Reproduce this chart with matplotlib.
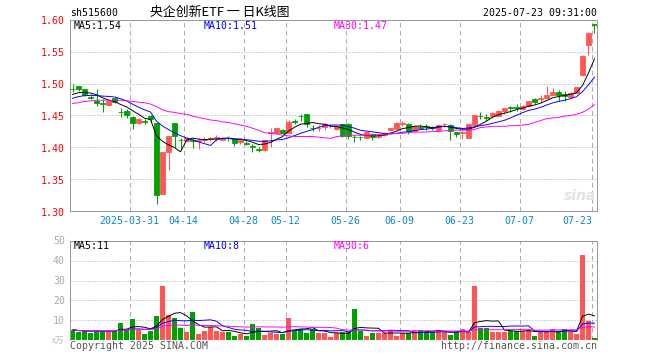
import matplotlib
matplotlib.use('Agg')
import matplotlib.pyplot as plt
import numpy as np
import pandas as pd

# ---------------- data ----------------
holidays = ['2025-04-04', '2025-05-01', '2025-05-02', '2025-05-05', '2025-06-02']
dates = [d for d in pd.bdate_range('2025-03-17', '2025-07-23') if d.strftime('%Y-%m-%d') not in holidays]

opens = [1.492, 1.496, 1.492, 1.479, 1.473, 1.469, 1.467, 1.477, 1.456, 1.457,
         1.447, 1.438, 1.441, 1.449, 1.438, 1.327, 1.392, 1.439, 1.412, 1.410,
         1.411, 1.410, 1.412, 1.413, 1.414, 1.412, 1.415, 1.413, 1.408, 1.407,
         1.402, 1.397, 1.396, 1.423, 1.423, 1.427, 1.423, 1.441, 1.450, 1.453,
         1.431, 1.430, 1.432, 1.433, 1.429, 1.436, 1.437, 1.417, 1.417, 1.415,
         1.421, 1.417, 1.420, 1.428, 1.429, 1.437, 1.437, 1.426, 1.432, 1.433,
         1.432, 1.428, 1.436, 1.435, 1.424, 1.423, 1.415, 1.435, 1.450, 1.447,
         1.450, 1.450, 1.457, 1.463, 1.463, 1.460, 1.465, 1.476, 1.476, 1.477,
         1.482, 1.487, 1.484, 1.479, 1.486, 1.513, 1.560, 1.593]
highs = [1.499, 1.497, 1.492, 1.484, 1.492, 1.476, 1.474, 1.478, 1.462, 1.460,
         1.449, 1.446, 1.445, 1.451, 1.439, 1.393, 1.418, 1.439, 1.415, 1.416,
         1.413, 1.414, 1.416, 1.416, 1.419, 1.416, 1.418, 1.413, 1.414, 1.410,
         1.406, 1.400, 1.413, 1.431, 1.431, 1.429, 1.443, 1.445, 1.452, 1.453,
         1.435, 1.435, 1.438, 1.437, 1.434, 1.437, 1.438, 1.420, 1.418, 1.426,
         1.422, 1.421, 1.424, 1.431, 1.440, 1.442, 1.438, 1.435, 1.436, 1.436,
         1.434, 1.436, 1.439, 1.436, 1.424, 1.426, 1.436, 1.451, 1.456, 1.452,
         1.456, 1.458, 1.462, 1.465, 1.468, 1.466, 1.473, 1.477, 1.482, 1.497,
         1.493, 1.490, 1.489, 1.487, 1.495, 1.545, 1.581, 1.593]
lows = [1.487, 1.489, 1.481, 1.476, 1.465, 1.455, 1.465, 1.470, 1.448, 1.446,
        1.429, 1.437, 1.437, 1.440, 1.311, 1.326, 1.364, 1.401, 1.397, 1.408,
        1.399, 1.398, 1.408, 1.410, 1.410, 1.411, 1.410, 1.402, 1.406, 1.404,
        1.393, 1.392, 1.395, 1.400, 1.422, 1.421, 1.422, 1.436, 1.442, 1.432,
        1.425, 1.425, 1.428, 1.430, 1.428, 1.416, 1.413, 1.409, 1.412, 1.414,
        1.412, 1.415, 1.418, 1.427, 1.428, 1.434, 1.421, 1.425, 1.429, 1.427,
        1.428, 1.424, 1.432, 1.412, 1.417, 1.413, 1.414, 1.434, 1.445, 1.441,
        1.446, 1.449, 1.452, 1.455, 1.457, 1.459, 1.464, 1.468, 1.470, 1.477,
        1.482, 1.472, 1.473, 1.477, 1.485, 1.512, 1.545, 1.580]
closes = [1.491, 1.492, 1.482, 1.478, 1.470, 1.468, 1.473, 1.471, 1.455, 1.451,
          1.438, 1.445, 1.440, 1.444, 1.325, 1.393, 1.418, 1.418, 1.411, 1.415,
          1.410, 1.411, 1.413, 1.415, 1.416, 1.415, 1.414, 1.407, 1.412, 1.406,
          1.401, 1.396, 1.411, 1.424, 1.431, 1.422, 1.440, 1.440, 1.449, 1.436,
          1.430, 1.431, 1.436, 1.434, 1.433, 1.418, 1.418, 1.416, 1.416, 1.424,
          1.417, 1.418, 1.423, 1.430, 1.438, 1.438, 1.426, 1.434, 1.431, 1.432,
          1.430, 1.435, 1.437, 1.425, 1.421, 1.424, 1.436, 1.451, 1.449, 1.446,
          1.454, 1.457, 1.462, 1.462, 1.462, 1.465, 1.472, 1.471, 1.477, 1.482,
          1.487, 1.482, 1.480, 1.486, 1.494, 1.544, 1.580, 1.592]
# closes of the 9 sessions before the first bar (read from the MA5/MA10 start levels)
pre_closes = [1.465, 1.468, 1.472, 1.474, 1.476, 1.478, 1.480, 1.482, 1.484]
ma30 = [1.469, 1.470, 1.472, 1.473, 1.474, 1.474, 1.474, 1.474, 1.474, 1.473,
        1.472, 1.471, 1.470, 1.468, 1.464, 1.459, 1.456, 1.455, 1.453, 1.452,
        1.449, 1.447, 1.445, 1.443, 1.442, 1.440, 1.439, 1.437, 1.435, 1.433,
        1.430, 1.427, 1.423, 1.422, 1.421, 1.419, 1.418, 1.417, 1.417, 1.417,
        1.417, 1.416, 1.415, 1.414, 1.417, 1.418, 1.419, 1.419, 1.419, 1.419,
        1.419, 1.420, 1.421, 1.421, 1.422, 1.422, 1.423, 1.424, 1.424, 1.424,
        1.425, 1.425, 1.426, 1.426, 1.427, 1.427, 1.427, 1.428, 1.431, 1.432,
        1.433, 1.433, 1.433, 1.434, 1.434, 1.435, 1.436, 1.439, 1.442, 1.445,
        1.446, 1.447, 1.449, 1.450, 1.452, 1.455, 1.460, 1.467]
volumes = [5.3, 4.2, 4.7, 3.7, 4.7, 4.7, 4.2, 4.7, 8.7, 5.0,
           10.5, 5.0, 3.0, 4.7, 12.0, 27.2, 12.5, 11.2, 6.3, 4.2,
           14.2, 3.0, 4.7, 6.7, 4.7, 4.2, 4.2, 2.0, 3.0, 2.0,
           8.0, 6.3, 2.5, 3.7, 3.0, 3.0, 11.2, 4.7, 5.8, 3.7,
           5.8, 3.7, 3.7, 1.7, 3.3, 4.2, 4.2, 15.5, 4.7, 2.0,
           3.7, 3.7, 3.3, 5.0, 2.0, 3.3, 3.7, 5.0, 5.0, 4.2,
           4.2, 5.0, 4.2, 2.5, 4.2, 5.5, 3.8, 27.2, 6.2, 6.2,
           4.2, 4.2, 4.2, 4.7, 4.7, 4.7, 5.3, 2.2, 4.2, 4.2,
           5.5, 4.2, 5.5, 4.2, 3.0, 43.0, 9.7, 1.0]

tick_dates = ['2025-03-31', '2025-04-14', '2025-04-28', '2025-05-12', '2025-05-26',
              '2025-06-09', '2025-06-23', '2025-07-07', '2025-07-23']
tick_labels = ['2025-03-31', '04-14', '04-28', '05-12', '05-26', '06-09', '06-23', '07-07', '07-23']
price_ticks = [1.30, 1.35, 1.40, 1.45, 1.50, 1.55, 1.60]
vol_ticks = [10, 20, 30, 40, 50]

symbol = 'sh515600'
title = '央企创新ETF 一 日K线图'
stamp = '2025-07-23 09:31:00'
ma_price_labels = ['MA5:1.54', 'MA10:1.51', 'MA30:1.47']
ma_vol_labels = ['MA5:11', 'MA10:8', 'MA30:6']

# ---------------- style ----------------
W, H = 660, 360
RED = '#ff5555'
GREEN = '#00a000'
GRID = '#aaaaaa'
SPINE = '#999999'
MA_COLORS = ['#000000', '#0000ff', '#ff00ff']
DATE_COLOR = '#0a88cc'
MONO = 'DejaVu Sans Mono'
PX = 72.0 / 100  # points per pixel

fig = plt.figure(figsize=(W / 100, H / 100), dpi=100)
fig.patch.set_facecolor('white')


def fx(px):
    return px / W


def fy(py):
    return 1 - py / H


n = len(closes)
x = np.arange(n)
o = np.array(opens); c = np.array(closes); hi = np.array(highs); lo = np.array(lows)
up = c >= o
colors = np.where(up, RED, GREEN)

all_c = pd.Series(pre_closes + closes)
ma5 = all_c.rolling(5).mean().values[len(pre_closes):]
ma10 = all_c.rolling(10).mean().values[len(pre_closes):]

vs = pd.Series(volumes)
vma5 = vs.rolling(5, min_periods=1).mean().values
vma10 = vs.rolling(10, min_periods=1).mean().values
vma30 = vs.rolling(30, min_periods=1).mean().values

date_str = [d.strftime('%Y-%m-%d') for d in dates]
tick_pos = [date_str.index(t) for t in tick_dates]

L, R = 70, 597
xl = (-2.5 / 6, (R - 72.5) / 6)

# ---------------- price panel ----------------
ax = fig.add_axes([fx(L), fy(211), (R - L) / W, (211 - 20) / H])
ax.set_xlim(*xl)
ax.set_ylim(1.30, 1.60)
for s in ax.spines.values():
    s.set_color(SPINE); s.set_linewidth(PX)
ax.set_xticks([]); ax.set_yticks([])
for p in price_ticks[1:-1]:
    ax.axhline(p, color=GRID, lw=PX, ls=(0, (1, 2)), zorder=1)
for tp in tick_pos:
    ax.axvline(tp - 0.42, color=GRID, lw=PX, ls=(0, (4.5, 3.5)), zorder=1)

ax.vlines(x, lo, hi, colors=colors, lw=PX * 1.1, zorder=2)
ax.bar(x, np.abs(c - o), bottom=np.minimum(o, c), width=0.8, color=colors,
       edgecolor=colors, linewidth=PX * 0.8, zorder=3)
for vals, col in zip([ma5, ma10, ma30], MA_COLORS):
    ax.plot(x, vals, color=col, lw=PX * 0.95, zorder=4)

for lab, px_, col in zip(ma_price_labels, [74, 204, 334], MA_COLORS):
    fig.text(fx(px_), fy(26), lab, color=col, family=MONO, fontsize=7.1, va='center', ha='left')
for p in price_ticks:
    yy = 20.3 + (1.60 - p) * 640
    fig.text(fx(65), fy(yy + 1), f'{p:.2f}', color='#ff0000', family=MONO, fontsize=7.1,
             va='center', ha='right')
for tp, lab in zip(tick_pos, tick_labels):
    px_ = 70 + 6 * tp
    if lab == tick_labels[-1]:
        fig.text(fx(px_), fy(221.5), lab, color=DATE_COLOR, family=MONO, fontsize=7.1,
                 va='center', ha='right')
    else:
        fig.text(fx(px_ - 1), fy(221.5), lab, color=DATE_COLOR, family=MONO, fontsize=7.1,
                 va='center', ha='center')

fig.text(fx(596), fy(196), 'sina', color='#e2e2e2', fontsize=10, fontweight='bold',
         style='italic', ha='right', va='center')

# ---------------- header ----------------
fig.text(fx(70), fy(13), symbol, color='black', family=MONO, fontsize=7.1, va='center', ha='left')
fig.text(fx(150), fy(12.5), title, color='black', family=['Noto Sans CJK SC', 'DejaVu Sans'],
         fontsize=9.3, va='center', ha='left')
fig.text(fx(597), fy(13), stamp, color='black', family=MONO, fontsize=7.1, va='center', ha='right')

# ---------------- volume panel ----------------
av = fig.add_axes([fx(L), fy(340), (R - L) / W, (340 - 241) / H])
av.set_xlim(*xl)
av.set_ylim(0, 50)
for k, s in av.spines.items():
    s.set_color(SPINE); s.set_linewidth(PX)
av.spines['bottom'].set_visible(False)
av.set_xticks([]); av.set_yticks([])
for v in vol_ticks[:-1]:
    av.axhline(v, color=GRID, lw=PX, ls=(0, (1, 2)), zorder=1)
for tp in tick_pos:
    av.axvline(tp - 0.42, color=GRID, lw=PX, ls=(0, (4.5, 3.5)), zorder=1)
av.bar(x, volumes, width=0.83, color=colors, linewidth=0, zorder=2)
for vals, col in zip([vma5, vma10, vma30], MA_COLORS):
    av.plot(x, vals, color=col, lw=PX * 0.95, zorder=4)

for lab, px_, col in zip(ma_vol_labels, [74, 204, 334], MA_COLORS):
    fig.text(fx(px_), fy(246), lab, color=col, family=MONO, fontsize=7.1, va='center', ha='left')
for v in vol_ticks:
    yy = 340 - v * 2
    fig.text(fx(65), fy(yy + 0.5), f'{v}', color='#aaaaaa', family=MONO, fontsize=7.1,
             va='center', ha='right')
fig.text(fx(64), fy(340), 'x万', color='#bbbbbb', family=['Noto Sans CJK SC', 'DejaVu Sans'],
         fontsize=6, va='center', ha='right')
fig.text(fx(70), fy(346), 'Copyright 2025 SINA.COM', color='#555555', family=MONO, fontsize=7.1,
         va='center', ha='left')
fig.text(fx(597), fy(346), 'http://finance.sina.com.cn', color='#555555', family=MONO,
         fontsize=7.1, va='center', ha='right')

fig.savefig('out.png', dpi=100, facecolor='white')
